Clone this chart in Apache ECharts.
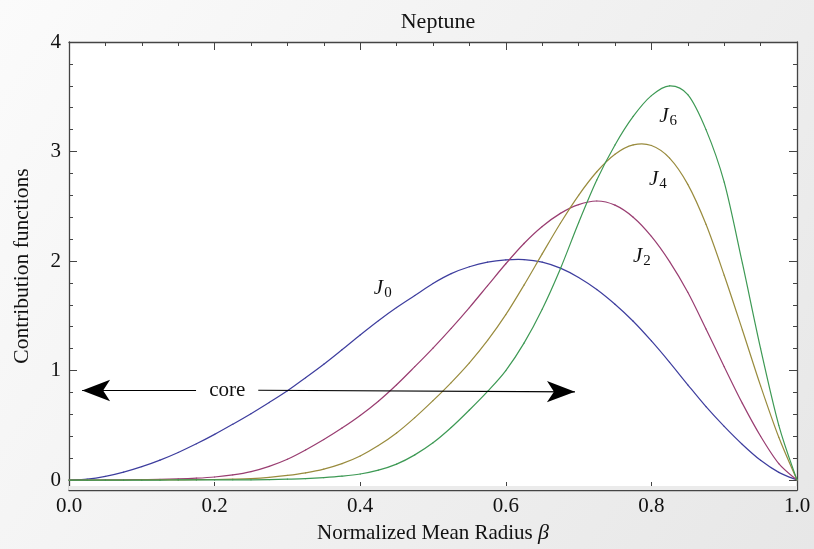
<!DOCTYPE html>
<html><head><meta charset="utf-8">
<script src="https://cdn.jsdelivr.net/npm/echarts@6/dist/echarts.min.js"></script>
<style>html,body{margin:0;padding:0;overflow:hidden;} #c{width:814px;height:549px;}</style>
</head><body><div id="c"></div>
<script>
// Normalized mean radius grid (beta), step 0.025
const beta = [0,0.025,0.05,0.075,0.1,0.125,0.15,0.175,0.2,0.225,0.25,0.275,0.3,0.325,0.35,0.375,0.4,0.425,0.45,0.475,0.5,0.525,0.55,0.575,0.6,0.625,0.65,0.675,0.7,0.725,0.75,0.775,0.8,0.825,0.85,0.875,0.9,0.925,0.95,0.975,1];
// Contribution functions
const J0 = [0,0.008,0.033,0.072,0.122,0.182,0.252,0.331,0.417,0.51,0.606,0.708,0.815,0.935,1.058,1.19,1.325,1.455,1.575,1.685,1.795,1.885,1.948,1.99,2.01,2.013,1.99,1.935,1.85,1.74,1.605,1.45,1.27,1.075,0.87,0.67,0.49,0.325,0.18,0.07,0];
const J2 = [0,0,0.001,0.002,0.004,0.006,0.01,0.017,0.028,0.047,0.077,0.125,0.19,0.275,0.37,0.475,0.59,0.72,0.87,1.035,1.205,1.385,1.575,1.775,1.975,2.16,2.315,2.435,2.515,2.548,2.51,2.4,2.225,1.995,1.715,1.38,1.035,0.7,0.4,0.15,0];
const J4 = [0,0,0,0,0.001,0.001,0.002,0.003,0.005,0.008,0.013,0.024,0.042,0.066,0.1,0.15,0.22,0.315,0.43,0.57,0.725,0.89,1.07,1.275,1.51,1.78,2.065,2.345,2.6,2.815,2.975,3.06,3.055,2.94,2.7,2.335,1.87,1.37,0.86,0.39,0];
const J6 = [0,0,0,0,0,0,0.001,0.001,0.001,0.002,0.002,0.004,0.008,0.013,0.022,0.035,0.055,0.09,0.145,0.23,0.34,0.48,0.64,0.81,1.0,1.25,1.56,1.93,2.35,2.74,3.06,3.32,3.51,3.6,3.52,3.2,2.72,1.98,1.2,0.5,0];
const seriesNames = ['J0','J2','J4','J6'];
const subscripts = ['0','2','4','6'];
const yMajorTicks = [0,1,2,3,4];
const yMinorTicks = [0.2,0.4,0.6,0.8,1.2,1.4,1.6,1.8,2.2,2.4,2.6,2.8,3.2,3.4,3.6,3.8];
const titleText = 'Neptune';
const xTitle = 'Normalized Mean Radius ';
const yTitle = 'Contribution functions';
const coreText = 'core';

const FONT = 'Liberation Serif';
const AX = '#444';
const colors = ['#3d3d9e','#993d71','#998b3d','#3d9954'];
const labelCoords = [[0.431,1.75],[0.787,2.045],[0.809,2.745],[0.823,3.32]];

const chart = echarts.init(document.getElementById('c'), null, {renderer:'canvas'});

function xAx(pos, showLabel){
  return {
    type:'value', min:0, max:1, interval:0.2, position:pos,
    axisLine:{show:true, onZero:false, lineStyle:{color:AX, width:1.3}},
    axisTick:{show:true, inside:true, length:8, lineStyle:{color:AX, width:1}},
    minorTick:{show:true, splitNumber:4, length:4, lineStyle:{color:AX, width:1}},
    splitLine:{show:false}, minorSplitLine:{show:false},
    axisLabel:{show:showLabel, formatter:v=>v.toFixed(1), fontFamily:FONT, fontSize:21, color:'#111', margin:6},
    name: showLabel ? xTitle + '{b|β}' : '',
    nameLocation:'middle', nameGap:32,
    nameTextStyle:{fontFamily:FONT, fontSize:21, color:'#111', rich:{b:{fontFamily:FONT, fontStyle:'italic', fontSize:22, color:'#111'}}}
  };
}
function yAx(pos, major, showLine, showLabel){
  return {
    type:'value', min:-0.0909, max:4, position:pos,
    axisLine:{show:showLine, onZero:false, lineStyle:{color:AX, width:1.3}},
    axisTick:{show:true, inside:true, length: major?8:4, customValues: major?yMajorTicks:yMinorTicks, lineStyle:{color:AX, width:1}},
    splitLine:{show:false},
    axisLabel:{show:showLabel, customValues: yMajorTicks, formatter:v=>String(Math.round(v)), fontFamily:FONT, fontSize:21, color:'#111', margin:8},
    name: showLabel ? yTitle : '',
    nameLocation:'middle', nameGap:36, nameRotate:90,
    nameTextStyle:{fontFamily:FONT, fontSize:21.5, color:'#111'}
  };
}

// Smooth curve (Catmull-Rom through the data points), positioned via api.coord
function curveSeries(vals, color, name){
  return {
    name: name, type:'custom', coordinateSystem:'cartesian2d', xAxisIndex:0, yAxisIndex:0,
    data: beta.map((b,k)=>[b, vals[k]]),
    z: 3, silent:true,
    renderItem: function(params, api){
      const i = params.dataIndexInside;
      const n = params.dataInsideLength;
      if (i === 0) return null;
      const P = j => { const k = Math.max(0, Math.min(n-1, j)); return api.coord([api.value(0,k), api.value(1,k)]); };
      const p0 = P(i-2), p1 = P(i-1), p2 = P(i), p3 = P(i+1);
      const t = 1/6;
      return {
        type:'bezierCurve',
        shape:{x1:p1[0], y1:p1[1], x2:p2[0], y2:p2[1],
          cpx1:p1[0]+(p2[0]-p0[0])*t, cpy1:p1[1]+(p2[1]-p0[1])*t,
          cpx2:p2[0]-(p3[0]-p1[0])*t, cpy2:p2[1]-(p3[1]-p1[1])*t},
        style:{stroke:color, fill:null, lineWidth:1.2, lineCap:'round'}
      };
    }
  };
}

const series = [J0,J2,J4,J6].map((vals,i)=>curveSeries(vals, colors[i], seriesNames[i]));

series.push({
  type:'line', data:[], xAxisIndex:0, yAxisIndex:0, symbol:'none', z:4,
  markArea:{
    silent:true, itemStyle:{color:'#ebebeb'},
    data:[[{yAxis:-0.0909},{yAxis:-0.055}]]
  },
  markLine:{
    silent:true, animation:false,
    symbol:['none','arrow'], symbolSize:[16,28],
    lineStyle:{color:'#000', width:1.2, type:'solid'},
    label:{show:false},
    data:[
      [{coord:[0.1745,0.818]},{coord:[0.018,0.818]}],
      [{coord:[0.26,0.82]},{coord:[0.695,0.806]}]
    ]
  },
  markPoint:{
    silent:true, symbol:'circle', symbolSize:0,
    data:[{coord:[0.2175,0.82], value:coreText, label:{formatter:coreText, fontFamily:FONT, fontSize:21, color:'#111'}}].concat(
      labelCoords.map((c,i)=>({coord:c, value:subscripts[i],
        label:{formatter:'{j|J}{s|'+subscripts[i]+'}',
          rich:{
            j:{fontFamily:FONT, fontStyle:'italic', fontSize:21, color:'#111'},
            s:{fontFamily:FONT, fontSize:15, color:'#111', padding:[9,0,0,1]}
          }}}))),
    label:{show:true, position:'inside'}
  }
});

chart.setOption({
  animation:false,
  backgroundColor: new echarts.graphic.LinearGradient(0,0,1,1,[{offset:0,color:'#fbfbfb'},{offset:1,color:'#e7e7e7'}]),
  title:{text:titleText, left:433, top:6, textAlign:'center',
    textStyle:{fontFamily:FONT, fontSize:22, fontWeight:'normal', color:'#111'}},
  grid:{left:69, right:17, top:42, bottom:57, show:true, backgroundColor:'#fff', borderWidth:0},
  xAxis:[xAx('bottom',true), xAx('top',false)],
  yAxis:[yAx('left',true,true,true), yAx('left',false,false,false), yAx('right',true,true,false), yAx('right',false,false,false)],
  series: series
});
</script>
</body></html>
